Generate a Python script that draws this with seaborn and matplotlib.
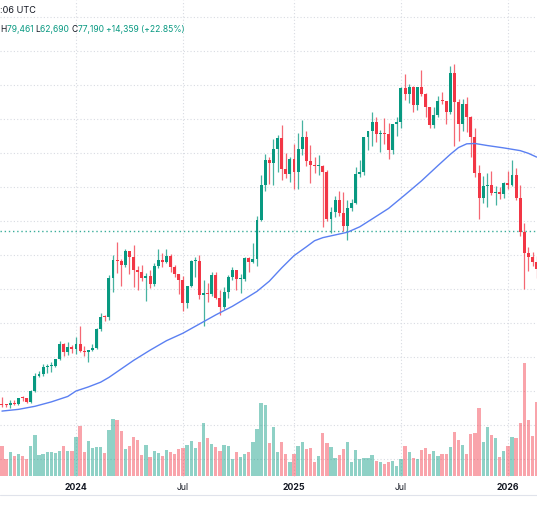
import numpy as np
import pandas as pd
import matplotlib
matplotlib.use("Agg")
import matplotlib.pyplot as plt
import matplotlib.dates as mdates
from matplotlib.lines import Line2D
import seaborn as sns

# weekly BTC candles, first week starts Monday 2023-08-28, prices in thousand USD
first_week = "2023-08-28"

opens = [26.1, 25.8, 25.75, 26.5, 26.25, 27.95, 27.9, 26.85, 29.95, 34.5,
         35.0, 37.05, 37.4, 37.45, 39.45, 43.8, 41.4, 43.0, 42.3, 43.95,
         41.75, 41.6, 42.0, 42.6, 48.3, 51.8, 51.7, 63.1, 68.4, 68.3,
         67.2, 71.3, 69.4, 65.7, 64.9, 63.1, 63.9, 61.5, 66.9, 68.5,
         67.8, 69.6, 66.6, 64.3, 62.7, 55.8, 60.8, 68.2, 68.25, 58.1,
         58.7, 58.4, 64.2, 57.3, 54.8, 59.1, 63.6, 65.6, 62.8, 62.9,
         69.0, 68.0, 68.7, 80.4, 90.6, 97.9, 97.2, 101.1, 104.4, 95.2,
         93.7, 98.3, 94.5, 101.3, 104.7, 97.7, 96.4, 96.1, 96.25, 94.3,
         80.7, 82.6, 86.1, 82.4, 78.4, 83.7, 85.2, 93.7, 94.3, 104.6,
         106.5, 109.0, 105.7, 105.75, 105.5, 100.9, 108.4, 109.2, 119.1, 117.3,
         119.4, 114.2, 119.3, 117.4, 113.5, 108.2, 111.1, 115.3, 115.2, 112.2,
         123.5, 115.1, 108.6, 114.5, 110.5, 104.7, 94.1, 86.8, 90.4, 90.5,
         88.3, 88.5, 87.8, 91.3, 90.6, 93.4, 86.8, 76.8, 70.5, 69.3,
         68.0]

highs = [28.1, 26.1, 27.5, 27.5, 28.0, 28.6, 27.95, 30.3, 35.2, 35.9,
         37.9, 37.9, 38.4, 39.5, 44.7, 44.0, 44.3, 43.6, 45.9, 49.0,
         43.2, 42.2, 43.8, 48.5, 52.8, 52.5, 64.0, 69.9, 73.8, 68.9,
         71.7, 71.3, 72.8, 66.9, 67.2, 64.7, 65.5, 67.7, 71.9, 70.6,
         71.9, 70.2, 67.2, 64.4, 63.8, 61.0, 68.4, 69.4, 70.1, 62.7,
         61.8, 65.0, 64.9, 59.8, 60.6, 64.1, 66.5, 65.6, 64.5, 69.4,
         69.5, 73.6, 81.5, 93.5, 99.6, 98.7, 104.1, 105.2, 108.3, 99.9,
         98.9, 102.7, 106.0, 109.6, 106.5, 102.5, 98.8, 99.5, 96.5, 95.0,
         84.0, 87.5, 88.8, 88.5, 86.1, 86.5, 95.8, 97.9, 104.8, 106.6,
         112.0, 110.7, 106.8, 110.4, 108.9, 108.5, 110.5, 119.5, 123.2, 120.2,
         119.8, 119.3, 124.4, 117.6, 113.6, 113.4, 116.8, 117.9, 115.3, 125.7,
         126.2, 116.0, 116.0, 116.4, 110.8, 107.5, 96.6, 93.1, 94.1, 94.6,
         90.4, 90.0, 91.4, 94.8, 97.9, 95.5, 90.6, 79.3, 72.3, 70.8,
         69.7]

lows = [25.4, 25.4, 24.9, 26.0, 25.9, 27.2, 26.5, 26.6, 29.7, 34.1,
        34.5, 35.4, 35.7, 37.2, 39.0, 40.2, 40.5, 41.3, 40.75, 41.5,
        40.3, 38.5, 41.9, 42.3, 47.7, 50.6, 50.9, 59.0, 64.6, 60.8,
        66.4, 64.5, 60.7, 59.7, 62.4, 56.5, 60.2, 60.8, 66.1, 66.6,
        67.6, 65.1, 63.4, 58.4, 53.5, 54.3, 60.6, 63.5, 57.2, 49.0,
        56.1, 57.8, 57.2, 52.5, 54.0, 57.5, 62.7, 59.8, 58.9, 62.4,
        65.1, 67.6, 66.8, 80.0, 88.7, 90.8, 90.5, 94.3, 92.2, 92.6,
        91.5, 89.3, 89.3, 99.5, 96.2, 91.2, 94.1, 93.4, 78.2, 80.0,
        76.6, 81.2, 81.6, 77.2, 74.5, 83.0, 85.1, 92.8, 93.4, 100.8,
        102.1, 103.1, 100.4, 102.7, 98.2, 99.6, 105.1, 107.4, 115.7, 114.7,
        112.0, 112.6, 116.8, 110.6, 107.3, 107.3, 110.6, 114.4, 108.6, 111.5,
        102.0, 103.5, 106.6, 106.3, 98.9, 93.0, 80.6, 85.3, 84.2, 87.6,
        84.6, 86.6, 86.8, 89.3, 90.2, 86.2, 75.5, 60.1, 65.4, 66.8,
        63.1]

closes = [25.8, 25.75, 26.5, 26.25, 27.95, 27.9, 26.85, 29.95, 34.5, 35.0,
          37.05, 37.4, 37.45, 39.45, 43.8, 41.4, 43.0, 42.3, 43.95, 41.75,
          41.6, 42.0, 42.6, 48.3, 51.8, 51.7, 63.1, 68.4, 68.3, 67.2,
          71.3, 69.4, 65.7, 64.9, 63.1, 63.9, 61.5, 66.9, 68.5, 67.8,
          69.6, 66.6, 64.3, 62.7, 55.8, 60.8, 68.2, 68.25, 58.1, 58.7,
          58.4, 64.2, 57.3, 54.8, 59.1, 63.6, 65.6, 62.8, 62.9, 69.0,
          68.0, 68.7, 80.4, 90.6, 97.9, 97.2, 101.1, 104.4, 95.2, 93.7,
          98.3, 94.5, 101.3, 104.7, 97.7, 96.4, 96.1, 96.25, 94.3, 80.7,
          82.6, 86.1, 82.4, 78.4, 83.7, 85.2, 93.7, 94.3, 104.6, 106.5,
          109.0, 105.7, 105.75, 105.5, 100.9, 108.4, 109.2, 119.1, 117.3, 119.4,
          114.2, 119.3, 117.4, 113.5, 108.2, 111.1, 115.3, 115.2, 112.2, 123.5,
          115.1, 108.6, 114.5, 110.5, 104.7, 94.1, 86.8, 90.4, 90.5, 88.3,
          88.5, 87.8, 91.3, 90.6, 93.4, 86.8, 76.8, 70.5, 69.3, 68.0,
          65.8]

volumes = [30, 16.7, 24.3, 20.3, 21.7, 20, 16.7, 30, 41, 21,
           21.7, 24.3, 23.7, 22.7, 25, 30.3, 25.3, 25, 39.3, 50.3,
           24.3, 35, 28.3, 29, 29, 23, 46, 57, 56, 45,
           26.7, 30, 38.7, 36, 21, 30.7, 19.3, 25, 23.3, 20.3,
           26, 24.3, 22, 27.3, 27.7, 31, 35, 28, 34.3, 52.7,
           38.3, 31.7, 29.3, 25.3, 31.3, 30, 16.7, 23.7, 19.3, 22,
           24.3, 33.7, 47.3, 72.7, 71, 33.3, 49.3, 23.7, 34.3, 22,
           14.3, 22, 30, 33.7, 26.7, 28.3, 13.7, 20, 42.7, 33.3,
           29, 18, 21, 27.3, 34, 14, 26, 16.7, 17.7, 17.7,
           21, 14.7, 13.7, 12.3, 13.7, 14.7, 10.3, 16.7, 30, 24.3,
           18, 17.3, 26, 27.7, 22, 25, 20, 22.3, 22.3, 28.7,
           43.7, 36, 30.7, 22, 42, 43, 68, 34, 49, 41,
           38, 19, 25, 30, 39, 38, 53, 113, 56, 40,
           74]

ma_week_no = [0, 4, 8, 12, 16, 18, 21, 24, 26, 29, 32, 36, 40, 44, 48, 52, 56,
              60, 62, 65, 68, 71, 74, 76, 78, 81, 84, 87, 90, 94, 98, 102, 106,
              109, 111, 113, 115, 118, 122, 126, 128, 130]
ma_values = [24.1, 24.6, 25.5, 26.8, 28.4, 30.0, 31.2, 32.6, 34.0, 36.5, 39.0,
             42.0, 44.8, 47.0, 49.7, 52.4, 54.9, 57.8, 59.3, 62.3, 66.2, 69.8,
             72.4, 74.2, 75.1, 75.9, 76.7, 78.3, 80.6, 83.7, 87.7, 91.8, 96.3,
             99.6, 101.6, 102.7, 102.8, 102.2, 101.5, 100.7, 99.9, 98.8]

last_price = 77.19
grid_prices = list(range(10, 150, 10))

tick_dates = ["2024-01-01", "2024-07-01", "2025-01-06", "2025-07-07", "2026-01-05"]
tick_labels = ["2024", "Jul", "2025", "Jul", "2026"]

header_time = ":06 UTC"
header_ohlc = [("H", "dark"), ("79,461 ", "up"), ("L", "dark"), ("62,690 ", "up"),
               ("C", "dark"), ("77,190 ", "up"), ("+14,359 (+22.85%)", "up")]

UP = "#089981"
DOWN = "#f23645"
DARK = "#131722"

sns.set_theme(style="white")
plt.rcParams["font.family"] = ["Inter", "DejaVu Sans"]

dates = pd.date_range(first_week, periods=len(closes), freq="7D")
x = mdates.date2num(dates)
o = np.array(opens)
h = np.array(highs)
l = np.array(lows)
c = np.array(closes)
up = c >= o
colors = np.where(up, UP, DOWN)

fig = plt.figure(figsize=(5.37, 5.12), dpi=100)
ax = fig.add_axes([0, 35 / 512, 1, 477 / 512])

# volume pane in the same area
ax2 = ax.twinx()
ax2.bar(x, volumes, width=5.6, color=colors, alpha=0.45, linewidth=0)
ax2.set_ylim(-1, 476)
ax2.set_yticks([])

# candles
ax.vlines(x, l, h, colors=colors, linewidth=0.9, alpha=0.75, zorder=2)
body = np.maximum(np.abs(c - o), 0.3)
ax.bar(x, body, bottom=np.minimum(o, c), width=5.0, color=colors, linewidth=0, zorder=3)

# moving average
ma_x = mdates.date2num(pd.Timestamp(first_week) + pd.to_timedelta(np.array(ma_week_no) * 7, unit="D"))
sns.lineplot(x=ma_x, y=ma_values, ax=ax, color="#5b80f2", linewidth=1.0, zorder=4)

ax.axhline(last_price, color=UP, alpha=0.8, linestyle=(0, (1, 2)), linewidth=1.0, zorder=1)

x0 = mdates.date2num(pd.Timestamp("2024-01-01"))
ax.set_xlim(x0 - 129.35, x0 + 784.6)
ax.set_ylim(4.71, 145.0)

ax.set_yticks(grid_prices)
ax.set_xticks(mdates.date2num(pd.to_datetime(tick_dates)))
ax.set_xticklabels(tick_labels)
ax.grid(True, color="#d8dbe2", linestyle=(0, (1, 2)), linewidth=0.8, zorder=0)
ax.tick_params(axis="y", left=False, labelleft=False)
ax.tick_params(axis="x", length=0, pad=4.5, labelsize=6.3, labelcolor=DARK)
for lab in ax.get_xticklabels():
    if lab.get_text().isdigit():
        lab.set_fontweight("bold")
ax.set_xlabel("")
ax.set_ylabel("")
for a in (ax, ax2):
    for s in a.spines.values():
        s.set_visible(False)

fig.add_artist(Line2D([0, 1], [17 / 512, 17 / 512], color="#e0e3eb", linewidth=0.8,
                      transform=fig.transFigure))

# legend header
fig.text(0.5 / 537, 1 - 10.5 / 512, header_time, color=DARK, fontsize=6.6, va="center", ha="left")
fig.canvas.draw()
renderer = fig.canvas.get_renderer()
px = 0.5
for txt, kind in header_ohlc:
    t = fig.text(px / 537, 1 - 29 / 512, txt, color=DARK if kind == "dark" else UP,
                 fontsize=6.1, va="center", ha="left")
    px += t.get_window_extent(renderer).width

fig.savefig("out.png", dpi=100)
